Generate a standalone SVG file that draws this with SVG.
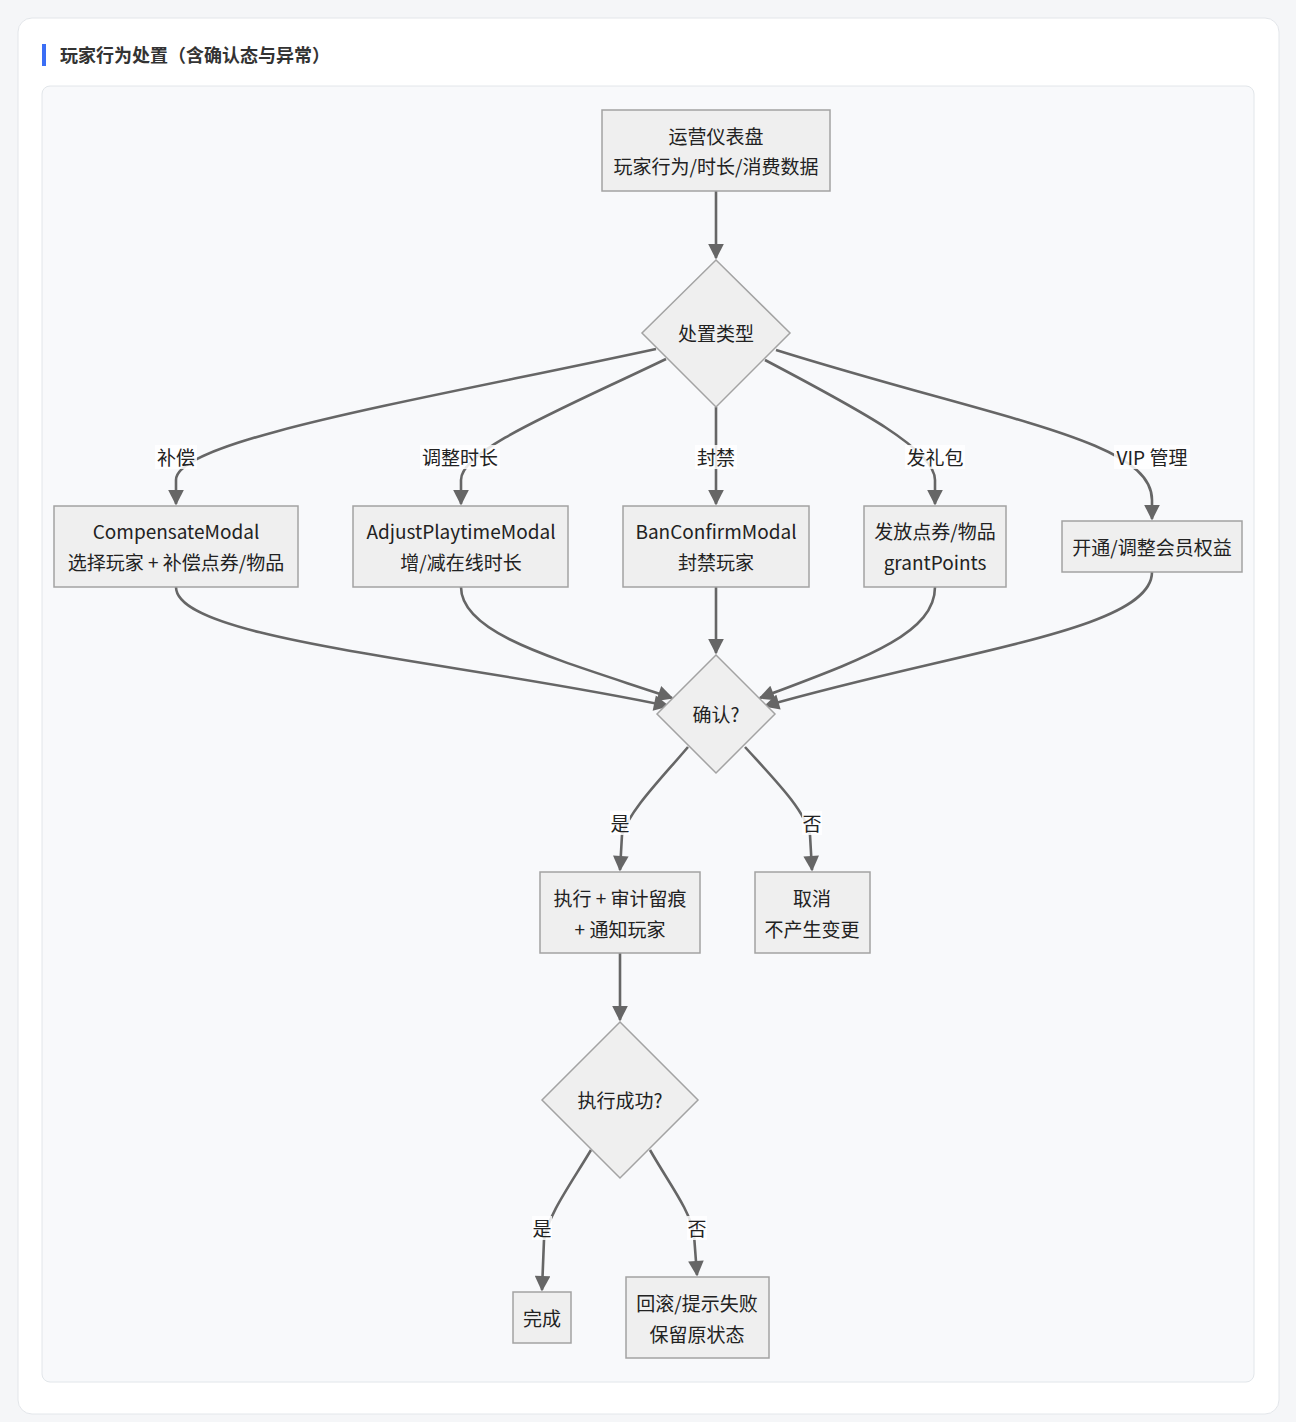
<svg xmlns="http://www.w3.org/2000/svg" width="1296" height="1422" viewBox="0 0 1296 1422">
<style>
text{font-family:"Noto Sans CJK SC","Noto Sans",sans-serif;font-size:19px;fill:#222;text-anchor:middle;dominant-baseline:central}
.title{font-size:18px;font-weight:bold;fill:#333;text-anchor:start}
.node{fill:#efefef;stroke:#a3a3a3;stroke-width:1.5}
.edge{fill:none;stroke:#666;stroke-width:2.6}
.lbg{fill:#fff;opacity:0.85}
</style>
<defs>
<marker id="ah" viewBox="0 0 10 10" refX="9" refY="5" markerWidth="6.5" markerHeight="6" markerUnits="strokeWidth" orient="auto">
<path d="M0,0 L10,5 L0,10 z" fill="#666"/>
</marker>
</defs>
<rect width="1296" height="1422" fill="#f5f6f8"/>
<rect x="18" y="18" width="1261" height="1396" rx="14" fill="#fff" stroke="#e3e6ea"/>
<rect x="42" y="44" width="4" height="22" fill="#3b6ef5"/>
<text class="title" x="60" y="54">玩家行为处置（含确认态与异常）</text>
<rect x="42" y="86" width="1212" height="1296" rx="8" fill="#f8f9fb" stroke="#e2e6ea"/>

<g id="edges">
<path class="edge" marker-end="url(#ah)" d="M716,191 L716,258"/>
<path class="edge" marker-end="url(#ah)" d="M656,349 C420,400 176,440 176,480 L176,504"/>
<path class="edge" marker-end="url(#ah)" d="M666,359 C560,410 461,450 461,480 L461,504"/>
<path class="edge" marker-end="url(#ah)" d="M716,407 L716,504"/>
<path class="edge" marker-end="url(#ah)" d="M765,360 C860,410 935,450 935,480 L935,504"/>
<path class="edge" marker-end="url(#ah)" d="M776,350 C1000,420 1152,440 1152,500 L1152,519"/>
<path class="edge" marker-end="url(#ah)" d="M176,587 C176,640 450,660 668,706"/>
<path class="edge" marker-end="url(#ah)" d="M461,587 C461,635 560,660 672,698"/>
<path class="edge" marker-end="url(#ah)" d="M716,587 L716,653"/>
<path class="edge" marker-end="url(#ah)" d="M935,587 C935,635 860,660 760,698"/>
<path class="edge" marker-end="url(#ah)" d="M1152,572 C1152,630 960,650 765,706"/>
<path class="edge" marker-end="url(#ah)" d="M688,747 C660,780 630,810 622,835 L620,870"/>
<path class="edge" marker-end="url(#ah)" d="M745,747 C775,780 805,810 810,835 L812,870"/>
<path class="edge" marker-end="url(#ah)" d="M620,953 L620,1020"/>
<path class="edge" marker-end="url(#ah)" d="M591,1150 C570,1185 548,1215 544,1240 L542,1290"/>
<path class="edge" marker-end="url(#ah)" d="M650,1150 C670,1185 690,1210 694,1235 L697,1275"/>
</g>
<g id="edge-labels">
<rect class="lbg" x="155" y="445" width="42" height="24"/><text x="176" y="456">补偿</text>
<rect class="lbg" x="420" y="445" width="80" height="24"/><text x="460" y="456">调整时长</text>
<rect class="lbg" x="695" y="445" width="42" height="24"/><text x="716" y="456">封禁</text>
<rect class="lbg" x="905" y="445" width="60" height="24"/><text x="935" y="456">发礼包</text>
<rect class="lbg" x="1114" y="445" width="76" height="24"/><text x="1152" y="456">VIP 管理</text>
<rect class="lbg" x="610" y="811" width="20" height="24"/><text x="620" y="822">是</text>
<rect class="lbg" x="802" y="811" width="20" height="24"/><text x="812" y="822">否</text>
<rect class="lbg" x="532" y="1216" width="20" height="24"/><text x="542" y="1227">是</text>
<rect class="lbg" x="687" y="1216" width="20" height="24"/><text x="697" y="1227">否</text>
</g>

<g id="n-dashboard"><rect class="node" x="602" y="110" width="228" height="81"/><text x="716" y="135">运营仪表盘</text><text x="716" y="165">玩家行为/时长/消费数据</text></g>
<g id="n-type"><polygon class="node" points="716,260 790,333 716,407 642,333"/><text x="716" y="332">处置类型</text></g>
<g id="n-compensate"><rect class="node" x="54" y="506" width="244" height="81"/><text x="176" y="530">CompensateModal</text><text x="176" y="561">选择玩家 + 补偿点券/物品</text></g>
<g id="n-adjust"><rect class="node" x="353" y="506" width="215" height="81"/><text x="461" y="530">AdjustPlaytimeModal</text><text x="461" y="561">增/减在线时长</text></g>
<g id="n-ban"><rect class="node" x="623" y="506" width="186" height="81"/><text x="716" y="530">BanConfirmModal</text><text x="716" y="561">封禁玩家</text></g>
<g id="n-grant"><rect class="node" x="864" y="506" width="142" height="81"/><text x="935" y="530">发放点券/物品</text><text x="935" y="561">grantPoints</text></g>
<g id="n-vip"><rect class="node" x="1062" y="521" width="180" height="51"/><text x="1152" y="546">开通/调整会员权益</text></g>
<g id="n-confirm"><polygon class="node" points="716,655 775,714 716,773 657,714"/><text x="716" y="713">确认?</text></g>
<g id="n-exec"><rect class="node" x="540" y="872" width="160" height="81"/><text x="620" y="897">执行 + 审计留痕</text><text x="620" y="928">+ 通知玩家</text></g>
<g id="n-cancel"><rect class="node" x="755" y="872" width="115" height="81"/><text x="812" y="897">取消</text><text x="812" y="928">不产生变更</text></g>
<g id="n-success"><polygon class="node" points="620,1022 698,1100 620,1178 542,1100"/><text x="620" y="1099">执行成功?</text></g>
<g id="n-done"><rect class="node" x="513" y="1292" width="58" height="51"/><text x="542" y="1317">完成</text></g>
<g id="n-rollback"><rect class="node" x="626" y="1277" width="143" height="81"/><text x="697" y="1302">回滚/提示失败</text><text x="697" y="1333">保留原状态</text></g>
</svg>
